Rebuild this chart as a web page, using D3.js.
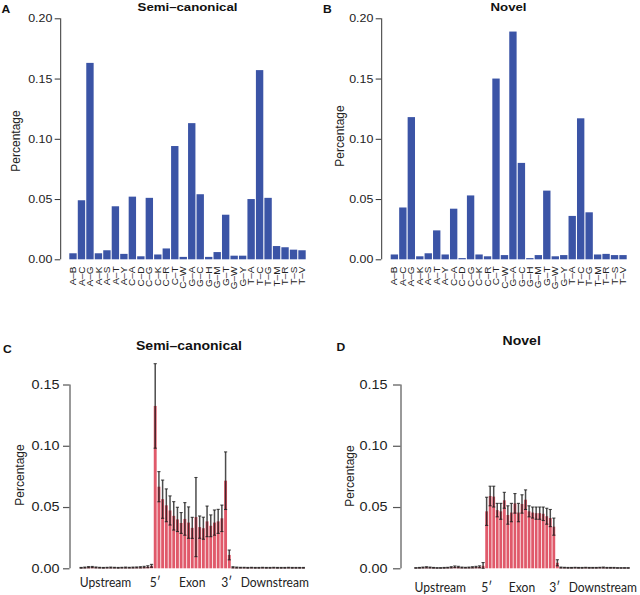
<!DOCTYPE html>
<html>
<head>
<meta charset="utf-8">
<script src="https://cdn.jsdelivr.net/npm/d3@7"></script>
<style>
  html, body { margin: 0; padding: 0; background: #fff; }
  svg { display: block; }
</style>
</head>
<body>
<svg id="chart" width="640" height="595"></svg>
<script>
// ---------------- DATA ----------------
const substitutionCategories = ["A-B","A-C","A-G","A-K","A-S","A-T","A-Y","C-A","C-D","C-G","C-K","C-R","C-T","C-W",
  "G-A","G-C","G-H","G-M","G-T","G-W","G-Y","T-A","T-C","T-G","T-M","T-R","T-S","T-V"];
const semiCanonicalSubst = [0.005,0.049,0.163,0.005,0.0075,0.044,0.0045,0.052,0.0025,0.051,0.004,0.009,0.094,0.002,
  0.113,0.054,0.002,0.006,0.037,0.003,0.003,0.050,0.157,0.051,0.011,0.010,0.008,0.0075];
const novelSubst = [0.004,0.043,0.118,0.0025,0.005,0.024,0.004,0.042,0.001,0.053,0.004,0.0025,0.150,0.0035,
  0.189,0.080,0.001,0.0035,0.057,0.0025,0.0035,0.036,0.117,0.039,0.004,0.0045,0.0035,0.0035];
const topTicks = [0, 0.05, 0.10, 0.15, 0.20];
const bottomTicks = [0, 0.05, 0.10, 0.15];
const regionLabels = ["Upstream", "5\u2032", "Exon", "3\u2032", "Downstream"];

// Semi-canonical: position profile (upstream bins, exon bins, downstream bins), mean and error half-width
const semiUpstream = [0.0004,0.0006,0.0009,0.0010,0.0007,0.0005,0.0004,0.0005,0.0006,0.0005,
  0.0004,0.0005,0.0006,0.0005,0.0006,0.0007,0.0008,0.0010,0.0013,0.0020];
const semiUpstreamErr = [0.0003,0.0004,0.0005,0.0005,0.0004,0.0003,0.0003,0.0003,0.0004,0.0003,
  0.0003,0.0003,0.0004,0.0003,0.0004,0.0004,0.0005,0.0006,0.0008,0.0012];
const semiExon = [0.1325,0.0666,0.0564,0.0514,0.0472,0.0428,0.0399,0.0370,0.0403,0.0373,0.0330,
  0.0418,0.0336,0.0327,0.0383,0.0347,0.0373,0.0383,0.0408,0.0715,0.0109];
const semiExonErr = [0.0345,0.0123,0.0156,0.0134,0.0119,0.0116,0.0099,0.0085,0.0133,0.0128,0.0086,
  0.0323,0.0091,0.0090,0.0125,0.0089,0.0103,0.0098,0.0108,0.0235,0.0040];
const semiDownstream = [0.0008,0.0006,0.0005,0.0005,0.0004,0.0005,0.0004,0.0004,0.0005,0.0004,
  0.0004,0.0005,0.0004,0.0004,0.0004,0.0005,0.0004,0.0004,0.0004,0.0004];
const semiDownstreamErr = [0.0005,0.0004,0.0003,0.0003,0.0003,0.0003,0.0003,0.0003,0.0003,0.0003,
  0.0003,0.0003,0.0003,0.0003,0.0003,0.0003,0.0003,0.0003,0.0003,0.0003];

// Novel
const novelUpstream = [0.0003,0.0004,0.0006,0.0008,0.0006,0.0004,0.0003,0.0003,0.0004,0.0005,
  0.0008,0.0012,0.0010,0.0006,0.0005,0.0006,0.0008,0.0010,0.0012,0.0020];
const novelUpstreamErr = [0.0002,0.0003,0.0004,0.0005,0.0004,0.0003,0.0002,0.0002,0.0003,0.0003,
  0.0005,0.0007,0.0006,0.0004,0.0003,0.0004,0.0005,0.0006,0.0008,0.0027];
const novelExon = [0.0465,0.0590,0.0585,0.0475,0.0465,0.0555,0.0435,0.0455,0.0530,0.0455,0.0525,
  0.0560,0.0465,0.0455,0.0450,0.0450,0.0445,0.0425,0.0410,0.0340,0.0045];
const novelExonErr = [0.0115,0.0080,0.0085,0.0055,0.0065,0.0065,0.0075,0.0075,0.0080,0.0075,0.0075,
  0.0080,0.0045,0.0045,0.0050,0.0050,0.0055,0.0065,0.0070,0.0070,0.0025];
const novelDownstream = [0.0006,0.0005,0.0004,0.0004,0.0005,0.0004,0.0004,0.0005,0.0004,0.0004,
  0.0004,0.0005,0.0006,0.0004,0.0004,0.0004,0.0003,0.0003,0.0003,0.0003];
const novelDownstreamErr = [0.0004,0.0003,0.0003,0.0003,0.0003,0.0003,0.0003,0.0003,0.0003,0.0003,
  0.0003,0.0003,0.0004,0.0003,0.0003,0.0003,0.0002,0.0002,0.0002,0.0002];

// ---------------- DRAWING ----------------
const svg = d3.select("#chart");
const SANS = "'Liberation Sans', Arial, Helvetica, sans-serif";
const BLUE = "#3b54a6";
const RED = "#e0596a";
const dash = s => s.replace(/-/g, "\u2013");

function stretchedText(parent, x, y, str, o) {
  const t = parent.append("text")
    .attr("transform", `translate(${x},${y}) scale(${o.sx || 1},1)` + (o.rotate ? ` rotate(${o.rotate})` : ""))
    .attr("text-anchor", o.anchor || "start")
    .attr("font-family", o.family || SANS)
    .attr("font-size", o.size)
    .attr("font-weight", o.weight || "normal")
    .attr("fill", o.fill || "#111")
    .text(str);
  return t;
}

function yAxis(g, y, ticks, cfg) {
  const ax = g.append("g")
    .attr("transform", `translate(${cfg.axisX},0)`)
    .call(d3.axisLeft(y).tickValues(ticks).tickSize(cfg.tickSize).tickPadding(cfg.tickPad)
      .tickFormat(d3.format(".2f")));
  ax.select(".domain").remove();
  ax.selectAll(".tick line").attr("stroke", cfg.axisColor).attr("stroke-width", cfg.axisWidth);
  ax.selectAll(".tick text")
    .attr("font-family", SANS).attr("font-size", cfg.tickFont).attr("fill", "#222")
    .attr("transform", `scale(${cfg.sx},1)`);
  ax.append("line")
    .attr("x1", 0.5).attr("x2", 0.5)
    .attr("y1", y(ticks[0])).attr("y2", y(ticks[ticks.length - 1]))
    .attr("stroke", cfg.axisColor).attr("stroke-width", cfg.axisWidth);
}

function drawTop(cfg) {
  const g = svg.append("g");
  const y = d3.scaleLinear().domain([0, 0.20]).range([259.3, 18.3]);
  const x = d3.scaleBand().domain(substitutionCategories).range(cfg.xRange)
    .paddingInner(0.13).paddingOuter(0);

  g.selectAll("rect.bar").data(cfg.values).join("rect")
    .attr("class", "bar")
    .attr("x", (d, i) => x(substitutionCategories[i]))
    .attr("width", x.bandwidth())
    .attr("y", d => y(d))
    .attr("height", d => y(0) - y(d))
    .attr("fill", BLUE);

  yAxis(g, y, topTicks, { axisX: cfg.axisX, tickSize: 5.5, tickPad: 1.5, tickFont: 11, sx: 1.13,
    axisColor: "#333", axisWidth: 1 });

  // rotated category labels
  substitutionCategories.forEach(c => {
    g.append("text")
      .attr("transform", `translate(${x(c) + x.bandwidth() / 2 + 3.1},266.5) scale(0.85,1) rotate(-90)`)
      .attr("text-anchor", "end")
      .attr("font-family", SANS).attr("font-size", 10).attr("fill", "#222")
      .text(dash(c));
  });

  stretchedText(g, cfg.titleX, 10.8, cfg.title, { size: 11.5, weight: "bold", anchor: "middle", sx: 1.15 });
  stretchedText(g, cfg.letterX, 12.7, cfg.letter, { size: 11, weight: "bold", sx: 1.1 });
  stretchedText(g, cfg.ylabX, cfg.ylabY, "Percentage", { size: 12, anchor: "middle", rotate: -90, fill: "#222" });
}

function drawBottom(cfg) {
  const g = svg.append("g");
  const y = d3.scaleLinear().domain([0, 0.15]).range([568.3, 384.5]);
  const nUp = cfg.up.length, nEx = cfg.exon.length, nDn = cfg.down.length;
  const means = cfg.up.concat(cfg.exon, cfg.down);
  const errs = cfg.upErr.concat(cfg.exonErr, cfg.downErr);
  const idx = d3.range(means.length);
  const x = d3.scaleBand().domain(idx).range(cfg.xRange).paddingInner(0.22).paddingOuter(0);
  const bw = x.bandwidth();

  g.selectAll("rect.bar").data(idx).join("rect")
    .attr("class", "bar")
    .attr("x", i => x(i))
    .attr("width", bw)
    .attr("y", i => y(means[i]))
    .attr("height", i => y(0) - y(means[i]))
    .attr("fill", RED);

  const eb = g.append("g").attr("stroke", "#1a1a1a").attr("stroke-opacity", 0.78);
  idx.forEach(i => {
    const cx = x(i) + bw / 2;
    const hi = y(means[i] + errs[i]), lo = y(Math.max(0, means[i] - errs[i]));
    eb.append("line").attr("x1", cx).attr("x2", cx).attr("y1", hi).attr("y2", lo).attr("stroke-width", 1.5);
    eb.append("line").attr("x1", cx - 1.6).attr("x2", cx + 1.6).attr("y1", hi).attr("y2", hi).attr("stroke-width", 1.1);
    eb.append("line").attr("x1", cx - 1.6).attr("x2", cx + 1.6).attr("y1", lo).attr("y2", lo).attr("stroke-width", 1.1);
  });

  yAxis(g, y, bottomTicks, { axisX: cfg.axisX, tickSize: cfg.tickSize, tickPad: cfg.tickPad, tickFont: 12, sx: 1.2,
    axisColor: "#555", axisWidth: 1.2 });

  // region labels derived from the bin scale
  const x0 = x(0), exStart = x(nUp), exEnd = x(nUp + nEx - 1) + bw;
  const lab = { family: "Lato, 'Open Sans', sans-serif", size: 13, fill: "#222", sx: 0.93 };
  stretchedText(g, x0, cfg.labY, regionLabels[0], Object.assign({ anchor: "start" }, lab));
  stretchedText(g, exStart + 1.5, cfg.labY, regionLabels[1], Object.assign({ anchor: "middle" }, lab));
  stretchedText(g, (exStart + exEnd) / 2, cfg.labY, regionLabels[2], Object.assign({ anchor: "middle" }, lab));
  stretchedText(g, exEnd - 4, cfg.labY, regionLabels[3], Object.assign({ anchor: "middle" }, lab));
  stretchedText(g, exEnd + 10, cfg.labY, regionLabels[4], Object.assign({ anchor: "start" }, lab));

  stretchedText(g, cfg.titleX, cfg.titleY, cfg.title, { size: 12, weight: "bold", anchor: "middle", sx: 1.17 });
  stretchedText(g, cfg.letterX, cfg.letterY, cfg.letter, { size: 11, weight: "bold", sx: 1.1 });
  stretchedText(g, cfg.ylabX, cfg.ylabY, "Percentage", { size: 12, anchor: "middle", rotate: -90, fill: "#222" });
}

drawTop({ values: semiCanonicalSubst, xRange: [69.3, 305.7], axisX: 60.2, title: "Semi\u2013canonical",
  titleX: 187.5, letter: "A", letterX: 1.5, ylabX: 20, ylabY: 141 });
drawTop({ values: novelSubst, xRange: [390.7, 626.7], axisX: 381.2, title: "Novel",
  titleX: 508.5, letter: "B", letterX: 323, ylabX: 343.5, ylabY: 136 });

drawBottom({ up: semiUpstream, upErr: semiUpstreamErr, exon: semiExon, exonErr: semiExonErr,
  down: semiDownstream, downErr: semiDownstreamErr,
  xRange: [79.7, 304.8], axisX: 69.5, tickSize: 6.5, tickPad: 1.8, labY: 586.5,
  title: "Semi\u2013canonical", titleX: 189, titleY: 350, letter: "C", letterX: 3, letterY: 352.5,
  ylabX: 23.5, ylabY: 475 });
drawBottom({ up: novelUpstream, upErr: novelUpstreamErr, exon: novelExon, exonErr: novelExonErr,
  down: novelDownstream, downErr: novelDownstreamErr,
  xRange: [414.5, 629.5], axisX: 400.5, tickSize: 7.5, tickPad: 3.3, labY: 592,
  title: "Novel", titleX: 521.7, titleY: 345, letter: "D", letterX: 336.5, letterY: 350.5,
  ylabX: 353.5, ylabY: 476 });
</script>
</body>
</html>
